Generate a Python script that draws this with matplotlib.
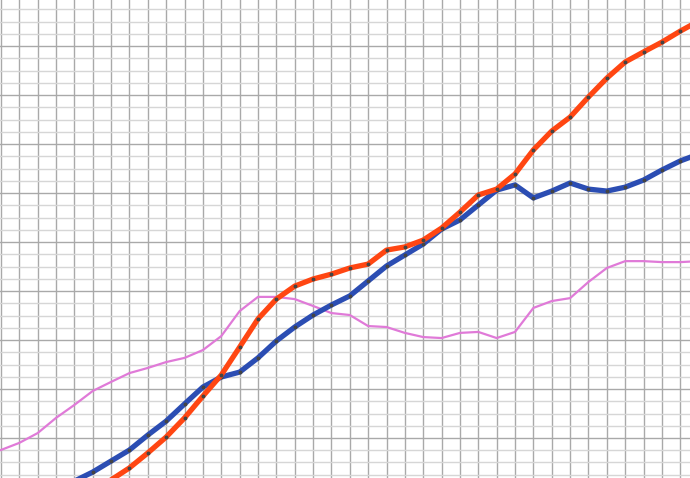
import matplotlib
matplotlib.use('Agg')
import matplotlib.pyplot as plt
import numpy as np

nan = np.nan

# x positions: one point per vertical grid line
x = list(range(39))

pink = [15.1, 18.0, 22.0, 28.2, 33.5, 39.2, 42.9, 46.5, 48.6, 51.0,
        52.7, 55.9, 61.6, 71.8, 77.6, 77.6, 76.7, 73.9, 71.0, 70.2,
        65.7, 65.3, 62.9, 61.2, 60.8, 62.9, 63.3, 60.8, 63.3, 73.1,
        75.9, 77.1, 83.7, 89.4, 92.2, 92.2, 91.8, 91.8, 92.2]

blue = [nan, nan, nan, nan, 2.4, 6.1, 10.6, 15.1, 21.2, 26.9,
        33.9, 40.8, 44.9, 46.9, 52.7, 59.6, 65.3, 70.2, 74.3, 78.0,
        84.1, 90.2, 94.7, 99.2, 105.3, 109.0, 115.1, 121.2, 123.3, 118.0,
        120.8, 124.1, 121.6, 120.8, 122.4, 125.3, 129.4, 133.1, 135.9]

orange = [nan, nan, nan, nan, nan, -2.0, 2.9, 7.8, 13.9, 20.4,
          28.2, 37.1, 45.7, 57.1, 68.6, 76.7, 82.0, 84.9, 86.9, 89.4,
          91.0, 96.7, 98.0, 100.8, 105.7, 112.2, 119.2, 121.6, 127.8, 137.6,
          145.3, 151.0, 159.2, 166.9, 173.5, 177.6, 181.6, 186.1, 190.2]

fig = plt.figure(figsize=(6.9, 4.78), dpi=100)
ax = fig.add_axes([0, 0, 1, 1])

ax.plot(x, pink, color='#e07ad8', linewidth=1.6, zorder=3)
ax.plot(x, blue, color='#2b4db3', linewidth=3.8, zorder=4,
        marker='o', markersize=1.8, markerfacecolor='#444444', markeredgecolor='#444444')
ax.plot(x, orange, color='#ff4612', linewidth=3.8, zorder=5,
        marker='o', markersize=1.8, markerfacecolor='#444444', markeredgecolor='#444444')

# grid like graph paper
ax.set_xticks(range(0, 39))
ax.set_yticks(range(0, 201, 20))
ax.set_yticks(range(0, 201, 5), minor=True)
ax.grid(axis='x', which='major', color='#a9a9a9', linewidth=1.0)
ax.grid(axis='y', which='major', color='#a9a9a9', linewidth=1.0)
ax.grid(axis='y', which='minor', color='#d6d6d6', linewidth=1.0)
ax.set_axisbelow(True)
ax.tick_params(which='both', length=0, labelbottom=False, labelleft=False)
for s in ax.spines.values():
    s.set_visible(False)

# limits after ticks (set_ticks widens the view)
ax.set_xlim(-0.051, 37.53)
ax.set_ylim(3.67, 198.8)

plt.savefig('out.png', dpi=100)
